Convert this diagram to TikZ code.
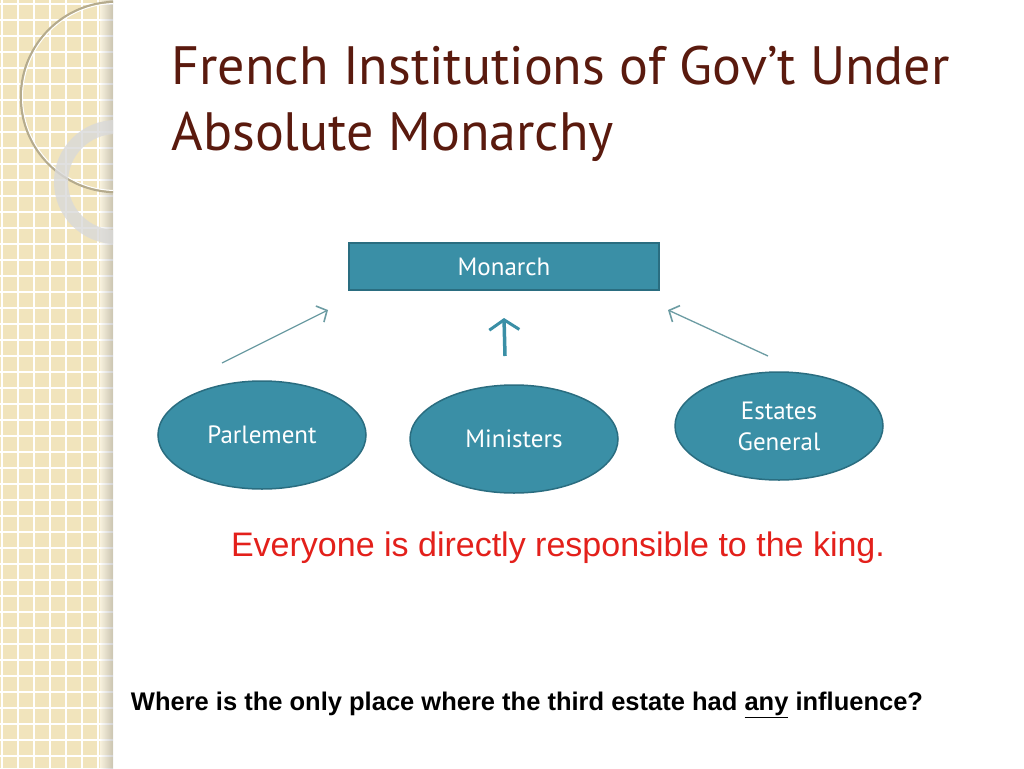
\documentclass[tikz,border=0pt]{standalone}
\usepackage{fontspec}
\setmainfont{PT Sans}
\newfontfamily\arialfont{Liberation Sans}
\usepackage{tikz}
\usetikzlibrary{shapes.geometric,arrows.meta}

\definecolor{beige}{HTML}{F1E4BC}
\definecolor{titlered}{HTML}{5A1A0E}
\definecolor{teal}{HTML}{3A8FA6}
\definecolor{tealedge}{HTML}{2A6D80}
\definecolor{arrowgray}{HTML}{6C9CA3}
\definecolor{slidered}{HTML}{E3201B}

\tikzset{
  box/.style={draw=tealedge, line width=1.5pt, fill=teal, text=white,
    minimum width=310pt, minimum height=47pt, font=\fontsize{25}{28}\selectfont},
  body/.style={ellipse, draw=tealedge, line width=1.5pt, fill=teal, text=white,
    minimum width=208pt, minimum height=108pt, inner sep=0pt, align=center,
    font=\fontsize{25}{31}\selectfont},
  link/.style={draw=arrowgray, line width=1.3pt, -{Straight Barb[length=8pt,width=18pt,line width=1.6pt]}}
}

\begin{document}
\begin{tikzpicture}[x=1pt,y=-1pt]
   \useasboundingbox (0,0) rectangle (1024,768);
   \fill[white] (0,0) rectangle (1024,768);

   % left strip
   \fill[beige] (0,0) rectangle (113,768);
   \foreach \x in {2,18,...,98}
      \draw[white, line width=1.2pt] (\x,0) -- (\x,768);
   \foreach \y in {4,20,...,764}
      \draw[white, line width=1.2pt] (0,\y) -- (113,\y);
   \shade[left color=beige!0, right color=black!35, opacity=0.5] (100,0) rectangle (113,768);
   \begin{scope}
      \clip (0,0) rectangle (113,768);
      \draw[black!25!beige, line width=2.5pt] (116,97) circle (95);
      \draw[white, line width=1pt] (116,97) circle (93.5);
      \draw[black!15, opacity=0.8, line width=14pt] (116,182) circle (55);
   \end{scope}

   % title
   \node[anchor=west, text=titlered, font=\fontsize{54}{66}\selectfont, align=left]
      (title) at (168,104) {French Institutions of Gov’t Under\\Absolute Monarchy};

   % institutions
   \node[box] (monarch) at (504,266.5) {Monarch};
   \node[body] (parlement) at (262,435) {Parlement};
   \node[body] (ministers) at (514,439) {Ministers};
   \node[body] (estates) at (779,426) {Estates\\General};

   \coordinate (pl) at (222,363);
   \coordinate (pm) at (505,356);
   \coordinate (pr) at (768,356);
   \draw[link] (pl) -- (328,310);
   \draw[link, draw=teal, line width=3.5pt, -{Straight Barb[length=10pt,width=30pt,line width=3pt]}] (pm) -- (504,318);
   \draw[link] (pr) -- (668,310);

   % notes
   \node[text=slidered, font=\arialfont\fontsize{34}{40}\selectfont] (note) at (558,548)
      {Everyone is directly responsible to the king.};
   \node[font=\arialfont\bfseries\fontsize{25.5}{30}\selectfont] (question) at (527,705)
      {Where is the only place where the third estate had \underline{any} influence?};
\end{tikzpicture}
\end{document}
